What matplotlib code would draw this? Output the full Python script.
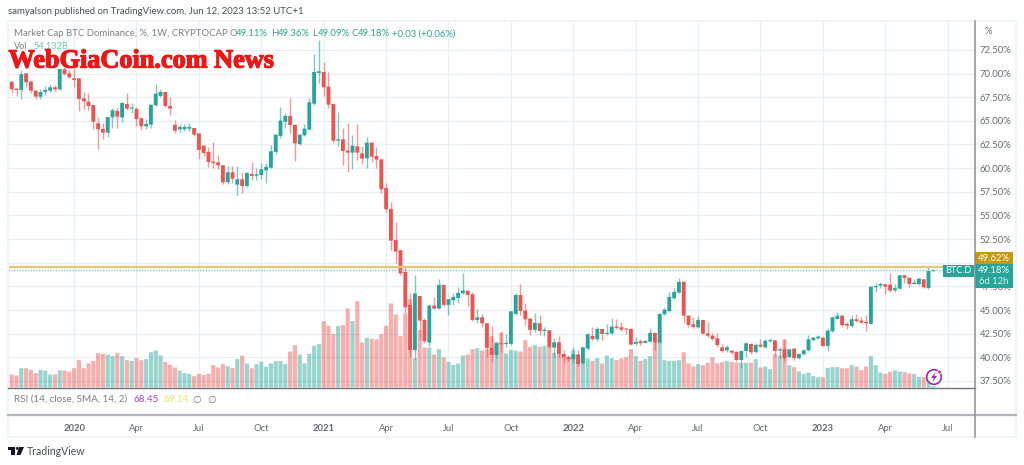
import matplotlib
matplotlib.use('Agg')
import matplotlib.pyplot as plt
import matplotlib.patheffects as pe
from matplotlib.patches import Rectangle, Circle, Polygon

plt.rcParams['font.family'] = ['Lato', 'DejaVu Sans']

# weekly BTC.D candles
opens = [69.49,69.14,68.40,68.26,70.02,69.14,68.19,67.55,68.05,68.19,68.54,68.33,70.44,70.02,69.49,69.49,67.38,67.03,66.67,64.74,
 64.14,63.75,65.37,66.04,65.37,66.78,66.29,66.25,65.26,64.42,64.60,66.64,67.63,68.05,66.57,64.56,64.10,64.10,64.17,64.24,
 63.68,62.38,61.71,60.68,60.61,60.30,58.50,59.56,58.25,58.82,58.11,59.38,59.20,59.27,59.77,60.05,61.71,63.40,64.91,65.51,
 64.59,62.55,63.47,64.07,66.81,70.06,70.16,68.61,66.78,62.90,63.04,61.85,61.64,62.30,61.56,61.04,62.69,61.28,60.93,57.90,
 55.68,52.41,51.32,49.03,45.54,40.75,46.49,43.95,41.56,45.47,45.15,47.65,45.54,46.03,46.28,46.77,47.05,46.66,43.95,44.23,
 43.60,41.00,40.25,41.49,41.42,41.42,44.59,46.59,44.94,44.09,42.90,43.60,42.79,42.86,41.03,41.59,40.36,40.04,39.80,40.32,
 39.37,40.92,42.26,41.91,43.00,42.47,42.51,43.25,43.18,43.00,43.00,41.42,41.70,41.52,41.66,42.58,41.56,44.55,44.90,46.24,
 46.84,48.00,44.41,43.49,43.17,43.95,42.54,42.29,42.01,41.06,40.74,40.71,40.57,39.72,40.67,41.41,40.57,41.34,41.06,41.69,
 41.80,40.71,40.85,40.04,40.92,39.90,40.32,40.74,41.83,42.01,42.08,41.20,42.75,44.05,44.41,43.53,43.31,44.02,43.88,43.77,
 43.53,47.40,47.58,47.72,47.68,47.08,47.26,48.67,48.42,47.75,47.75,48.25,47.33,49.11]
highs = [69.67,69.14,68.44,70.37,70.02,69.32,68.19,68.33,68.68,68.89,68.79,70.48,70.65,70.37,70.55,69.49,68.01,67.98,66.67,65.44,
 64.74,65.44,66.32,66.32,67.03,67.98,66.85,66.43,65.37,65.19,66.71,68.89,68.36,68.05,67.55,65.09,64.63,64.63,64.74,64.28,
 63.68,62.45,62.27,62.80,61.39,60.30,60.26,60.26,60.26,59.63,59.56,60.61,59.98,60.58,60.51,62.45,63.61,66.43,65.86,67.38,
 64.59,63.61,64.63,67.38,72.06,73.54,71.25,70.16,66.78,65.97,64.21,64.74,63.50,64.63,62.38,63.26,62.80,62.20,60.93,58.40,
 56.46,54.31,51.32,49.52,46.77,48.67,46.49,44.13,45.64,46.42,48.25,47.65,46.21,46.77,47.41,48.88,47.05,46.95,45.08,44.55,
 43.60,43.32,41.56,42.65,42.47,44.87,46.77,47.72,45.71,44.13,44.66,44.48,43.25,42.90,42.01,42.26,40.78,40.25,41.06,40.78,
 41.13,42.54,43.18,43.25,43.00,43.53,44.13,44.02,43.78,43.00,43.07,42.19,41.91,41.84,43.11,42.61,44.66,45.19,46.95,47.30,
 48.36,48.00,44.41,44.30,44.41,43.95,43.77,42.54,42.54,41.38,41.31,40.78,40.71,40.78,41.66,41.48,41.48,41.90,41.90,42.08,
 41.83,41.06,41.90,40.92,40.99,40.42,40.85,42.36,42.19,42.36,42.19,43.07,44.30,44.83,44.48,43.77,44.48,44.55,44.23,44.48,
 47.47,47.82,47.98,47.75,48.88,47.75,48.74,48.74,48.42,48.25,48.35,48.28,49.59,49.36]
lows = [68.44,67.91,67.63,67.27,68.61,67.91,67.27,67.27,67.70,68.08,68.15,68.26,69.84,69.49,68.61,66.04,66.22,66.15,64.10,61.99,
 63.05,63.33,64.21,64.21,64.91,66.15,65.86,64.49,64.03,64.10,64.21,66.57,67.55,66.50,65.62,63.75,63.85,63.93,63.93,63.40,
 60.93,61.28,60.09,59.98,59.87,58.29,58.32,58.39,57.20,57.41,58.04,58.75,58.75,58.85,58.39,59.98,61.49,63.15,64.21,63.68,
 60.79,62.45,63.40,64.03,66.67,69.03,67.62,66.39,62.69,62.38,60.33,59.63,59.87,60.86,60.44,60.05,60.68,60.05,57.34,55.40,
 51.35,50.01,48.74,44.66,40.08,39.72,41.84,41.49,41.20,45.08,45.08,45.43,44.52,45.54,45.71,46.70,45.47,43.88,43.60,43.25,
 40.01,39.55,39.90,40.61,41.13,41.35,44.52,44.48,43.42,42.33,42.72,42.33,42.26,40.96,39.90,40.01,39.37,39.65,39.37,39.09,
 39.30,40.78,41.84,41.77,41.84,42.33,42.47,43.04,42.82,42.47,41.28,41.35,41.35,41.49,41.59,40.78,41.49,44.48,44.83,46.17,
 46.77,43.66,43.24,43.14,43.14,42.43,42.19,41.83,41.06,40.57,40.53,40.35,39.65,38.84,40.07,40.35,40.50,41.06,40.99,41.62,
 40.14,39.90,39.65,39.97,39.68,39.79,40.25,40.67,41.76,41.94,41.17,40.71,42.72,44.02,43.31,43.00,43.24,43.77,43.60,42.82,
 43.49,46.94,47.30,46.70,46.94,46.87,47.23,47.82,47.40,47.72,47.68,47.33,47.23,49.09]
closes = [68.61,68.33,68.26,69.92,69.07,68.19,67.55,68.05,68.26,68.54,68.33,70.48,69.95,69.60,69.32,67.31,67.06,66.57,64.91,64.10,
 63.75,65.40,66.11,65.44,66.89,66.29,66.32,65.19,64.42,64.67,66.71,67.87,68.05,66.57,66.29,63.96,64.35,64.35,64.35,63.54,
 61.92,61.60,60.65,60.54,60.30,58.50,59.56,58.89,58.82,58.11,59.49,59.17,59.34,59.87,60.12,61.78,63.54,65.02,65.51,64.56,
 62.62,63.54,64.17,66.96,70.16,70.23,68.54,66.71,62.90,63.04,61.81,61.64,62.38,61.64,61.00,62.69,61.21,60.90,57.76,55.65,
 52.34,51.17,48.88,45.29,40.78,46.74,43.88,41.70,45.47,45.15,47.65,45.54,46.14,46.38,46.81,47.05,46.59,43.95,44.23,43.60,
 41.00,40.25,41.49,41.38,41.49,44.87,46.59,44.90,44.02,42.90,43.64,42.79,42.86,41.06,41.59,40.36,40.01,39.80,40.32,39.30,
 41.06,42.44,41.91,43.00,42.47,42.58,43.25,43.11,42.93,42.93,41.35,41.63,41.49,41.73,42.58,41.59,44.59,45.05,46.38,46.91,
 47.97,44.40,43.42,43.21,43.95,42.50,42.29,41.94,41.31,40.67,41.06,40.50,39.72,40.67,41.48,40.53,41.31,41.13,41.76,41.80,
 40.67,40.85,39.90,40.85,39.90,40.35,40.74,41.90,42.08,42.19,41.20,42.82,44.23,44.41,43.39,43.35,44.02,43.84,43.67,43.60,
 47.47,47.54,47.75,47.47,47.05,47.30,48.67,48.39,47.75,47.89,48.32,47.40,49.13,49.18]
# volume in billions
volumes = [493,520,480,773,773,706,573,706,680,520,520,680,680,640,773,1093,773,960,1066,1373,
 1346,1320,1253,1373,1253,1093,1066,1186,1093,1133,1413,1480,1280,1026,906,800,680,573,546,453,
 546,493,546,893,800,933,853,773,1133,1280,960,773,933,1026,826,960,1053,1053,933,1440,
 1693,1320,960,1346,1666,1733,2653,2466,2146,2466,2493,3159,2653,3453,1800,1986,1946,1920,2133,2466,
 3360,2920,2053,2960,3533,1160,2293,1600,1600,1320,1533,1213,1026,906,960,1280,1320,1533,1573,1480,
 1533,2053,1826,2200,1360,1506,1480,1440,1893,1626,1693,1626,1666,1600,1386,1360,1280,1226,1493,1226,
 1160,1160,1066,1173,960,1280,1173,1093,1160,1213,1533,1253,1066,1133,1253,1826,1826,1093,1066,1066,
 1093,1413,960,840,933,893,986,1213,960,1013,1053,1026,1000,986,986,986,1133,800,840,733,
 1333,1280,1920,893,813,640,546,600,453,413,413,786,813,813,773,773,893,840,693,840,
 1253,893,600,546,626,680,640,613,560,533,426,426,466,54.13]

month_bars = [14,27,40,53,66,79,92,105,118,131,144,157,170,183,196]
month_labels = ['2020','Apr','Jul','Oct','2021','Apr','Jul','Oct','2022','Apr','Jul','Oct','2023','Apr','Jul']
price_ticks = [37.5,40,42.5,45,47.5,50,52.5,55,57.5,60,62.5,65,67.5,70,72.5]

UP = '#26a69a'
DOWN = '#ef5350'
TXT = '#666a73'
GREY = '#7a7e87'
W, H = 1024, 465

fig = plt.figure(figsize=(W/100, H/100), dpi=100, facecolor='white')

# pane rectangle in pixels: left 8, right 974.7, top 21, bottom 387.5
pos = [8/W, 1-387.5/H, 966.7/W, 366.5/H]
x_lim = ((8-6.9)/4.8, (974.7-6.9)/4.8)
y_lim = (36.81, 75.55)

bg = fig.add_axes(pos, zorder=1)
bg.set_xlim(x_lim)
bg.set_ylim(y_lim)
bg.set_xticks(month_bars)
bg.set_yticks(price_ticks)
bg.grid(color='#e9f0f5', lw=1)
bg.tick_params(length=0, labelbottom=False, labelleft=False)
for s in bg.spines.values():
    s.set_visible(False)

vol = fig.add_axes(pos, zorder=2)
vol.patch.set_visible(False)
vol.set_xlim(x_lim)
vol.set_ylim(0, 14660)
vol.axis('off')

ax = fig.add_axes(pos, zorder=3)
ax.patch.set_visible(False)
ax.set_xlim(x_lim)
ax.set_ylim(y_lim)
for s in ax.spines.values():
    s.set_visible(False)

xs = list(range(len(opens)))
colors = [UP if c >= o else DOWN for o, c in zip(opens, closes)]

for b in vol.bar(xs, volumes, width=0.86, color=colors, alpha=0.47, lw=0):
    b.set_snap(False)
ax.vlines(xs, lows, highs, colors=colors, lw=1.0, alpha=0.6)
bottoms = [min(o, c) for o, c in zip(opens, closes)]
heights = [max(abs(c-o), 0.12) for o, c in zip(opens, closes)]
for b in ax.bar(xs, heights, bottom=bottoms, width=0.8, color=colors, lw=0):
    b.set_snap(False)

ax.axhline(49.6, color='#e4c97a', lw=1.7)
ax.axhline(49.18, color='#7fcbc4', lw=1, ls=(0, (1, 1)))

ax.yaxis.tick_right()
ax.set_yticks(price_ticks)
# the 50.00% label sits under the last price boxes in the reference
ax.set_yticklabels(['' if p == 50 else '%.2f%%' % p for p in price_ticks], fontsize=6.8, color=TXT)
ax.tick_params(axis='y', length=0, pad=3.6)
ax.set_xticks(month_bars)
ax.set_xticklabels(month_labels, fontsize=6.8, color=TXT)
ax.tick_params(axis='x', length=0, pad=26.5)
for lab in ax.get_xticklabels():
    if lab.get_text().startswith('20'):
        lab.set_fontweight('bold')

# chrome, legends and labels in pixel coordinates
top = fig.add_axes([0, 0, 1, 1], zorder=5)
top.patch.set_visible(False)
top.set_xlim(0, W)
top.set_ylim(H, 0)
top.axis('off')

top.add_patch(Rectangle((8, 21), 1008, 416, fill=False, ec='#f0f3fa', lw=1.6))
top.plot([8, 975], [387.5, 387.5], color='#6f737a', lw=1)
top.plot([8, 1016], [415, 415], color='#b2b5be', lw=1.6)
top.plot([975, 975], [21, 437], color='#8a8e96', lw=1.1)

top.text(8, 12, 'samyalson published on TradingView.com, Jun 12, 2023 13:52 UTC+1',
         fontsize=6.9, color='#4a4e57', va='center')
top.text(14, 34, 'Market Cap BTC Dominance, %, 1W, CRYPTOCAP', fontsize=6.9, color=GREY, va='center')
for x, s, c in [(229, 'O', GREY), (236, '49.11%', UP), (271, 'H', GREY), (278, '49.36%', UP),
                (312, 'L', GREY), (318, '49.09%', UP), (351, 'C', GREY), (358, '49.18%', UP),
                (392, '+0.03 (+0.06%)', UP)]:
    top.text(x, 34, s, fontsize=6.8, color=c, va='center')
top.text(14, 46.5, 'Vol', fontsize=6.6, color=GREY, va='center')
top.text(33, 46.5, '54.132B', fontsize=6.6, color='#6cc4bc', va='center')
top.text(8.5, 61, 'WebGiaCoin.com News', fontsize=18.9, color='#f01414', va='center',
         family='Liberation Serif', weight='bold',
         path_effects=[pe.withStroke(linewidth=0.9, foreground='#f01414')])

top.text(14, 399.5, 'RSI (14, close, SMA, 14, 2)', fontsize=7.1, color=GREY, va='center')
top.text(134, 399.5, '68.45', fontsize=7.1, color='#ab47bc', va='center')
top.text(163, 399.5, '69.14', fontsize=7.1, color='#e3ee5a', va='center')
top.text(192, 399.5, '∅', fontsize=7.2, color=GREY, va='center', family='DejaVu Sans')
top.text(207, 399.5, '∅', fontsize=7.2, color=GREY, va='center', family='DejaVu Sans')

top.text(985, 31.5, '%', fontsize=6.8, color=TXT, va='center')

# last price boxes
top.add_patch(Rectangle((975, 252), 37.5, 12.3, fc='#c49a12', ec='none'))
top.text(994, 258.3, '49.62%', fontsize=6.8, color='white', ha='center', va='center')
top.add_patch(Rectangle((975, 264.3), 37.5, 23.7, fc=UP, ec='none'))
top.text(994, 270.8, '49.18%', fontsize=6.8, color='white', ha='center', va='center')
top.text(994, 281, '6d 12h', fontsize=6.8, color='#d8f0ee', ha='center', va='center')
top.add_patch(Rectangle((943, 264.5), 30.5, 12, fc=UP, ec='none'))
top.text(958.5, 270.5, 'BTC.D', fontsize=6.6, color='white', ha='center', va='center')

# lightning badge
top.add_patch(Circle((934, 377), 7.3, fc='white', ec='#9c27b0', lw=1.2))
top.add_patch(Polygon([(935.5, 372), (931, 378), (933.8, 378), (932.6, 382), (937, 376), (934.3, 376)],
                      fc='#9c27b0', ec='none'))
top.add_patch(Circle((939.5, 372), 1.9, fc='#f23645', ec='white', lw=0.5))

# footer logo
top.add_patch(Polygon([(8, 447), (15, 447), (15, 455), (11, 455), (11, 450), (8, 450)], fc='#131722', ec='none'))
top.add_patch(Circle((17.2, 448.4), 1.4, fc='#131722', ec='none'))
top.add_patch(Polygon([(19, 447), (24, 447), (20.5, 455), (16.5, 455)], fc='#131722', ec='none'))
top.text(27, 451, 'TradingView', fontsize=7.6, color='#4a4e57', va='center')

fig.savefig('out.png', dpi=100)
